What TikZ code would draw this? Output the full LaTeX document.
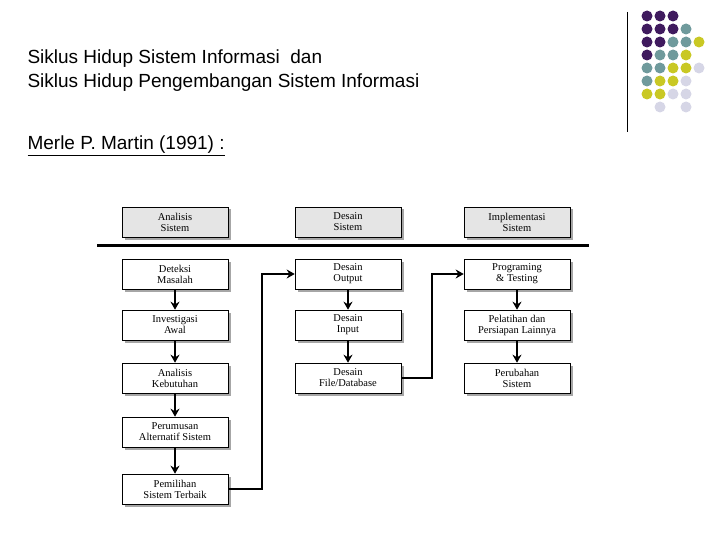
\documentclass[tikz,border=0pt]{standalone}
\usepackage{fontspec}
\setmainfont{Liberation Serif}
\newfontfamily\titlefont{Liberation Sans}
\usetikzlibrary{shadows,arrows.meta}

\definecolor{dotP}{HTML}{3F1A5E}
\definecolor{dotT}{HTML}{6F9A9C}
\definecolor{dotY}{HTML}{C9C824}
\definecolor{dotL}{HTML}{D6D6E6}
\definecolor{dotN}{HTML}{FFFFFF}

\tikzset{
  stage/.style={draw=black,line width=0.6pt,fill=white,minimum width=106pt,minimum height=30pt,
    align=center,font=\fontsize{10.5}{11}\selectfont,inner sep=1pt,
    general shadow={fill=gray!70,shadow xshift=2.5pt,shadow yshift=-2.5pt}},
  phase/.style={stage,fill=gray!20},
  flow/.style={-{Stealth[length=8pt,width=9pt]},line width=2.5pt},
  link/.style={-{Stealth[length=8pt,width=9pt]},line width=1.5pt},
}

\begin{document}
\begin{tikzpicture}[x=1pt,y=-1pt]
\useasboundingbox (0,0) rectangle (720,540);

\node[anchor=west,font=\titlefont\fontsize{19}{24}\selectfont,align=left] (title) at (24,71)
  {Siklus Hidup Sistem Informasi \ dan\\Siklus Hidup Pengembangan Sistem Informasi};
\node[anchor=west,font=\titlefont\fontsize{19}{24}\selectfont] (author) at (24,146)
  {\underline{Merle P. Martin (1991) :}};

% dots
\draw[line width=1pt] (627,12) -- (627,132);
\foreach \row/\cols in {0/{P,P,P},1/{P,P,P,T},2/{P,P,T,T,Y},3/{P,T,T,Y},
                        4/{T,T,Y,Y,L},5/{T,Y,Y,L},6/{Y,Y,L,L},7/{N,L,N,L}}
  \foreach \c [count=\i from 0] in \cols
    \fill[dot\c] (647+13*\i,16+13*\row) circle (5.5pt);

% headers
\node[phase] (hAnalisis) at (175,222) {Analisis\\Sistem};
\node[phase] (hDesain) at (348,222) {Desain\\Sistem};
\node[phase] (hImpl) at (517,222) {Implementasi\\Sistem};
\draw[line width=3pt] (97,245) -- (589,245);

% analisis column
\node[stage] (deteksi) at (175,274) {Deteksi\\Masalah};
\node[stage] (investigasi) at (175,325) {Investigasi\\Awal};
\node[stage] (kebutuhan) at (175,378) {Analisis\\Kebutuhan};
\node[stage] (perumusan) at (175,432) {Perumusan\\Alternatif Sistem};
\node[stage] (pemilihan) at (175,489) {Pemilihan\\Sistem Terbaik};

% desain column
\node[stage] (output) at (348,274) {Desain\\Output};
\node[stage] (input) at (348,325) {Desain\\Input};
\node[stage] (file) at (348,378) {Desain\\File/Database};

% implementasi column
\node[stage] (program) at (517,274) {Programing\\\& Testing};
\node[stage] (pelatihan) at (517,325) {Pelatihan dan\\Persiapan Lainnya};
\node[stage] (perubahan) at (517,378) {Perubahan\\Sistem};

\foreach \from/\to in {deteksi/investigasi,investigasi/kebutuhan,kebutuhan/perumusan,
  perumusan/pemilihan,output/input,input/file,program/pelatihan,pelatihan/perubahan}
  \draw[flow] (\from) -- (\to);

\coordinate (bendA) at (262,489);
\coordinate (bendB) at (432,378);
\draw[link] (pemilihan.east) -- (bendA) |- (output.west);
\draw[link] (file.east) -- (bendB) |- (program.west);
\end{tikzpicture}
\end{document}
